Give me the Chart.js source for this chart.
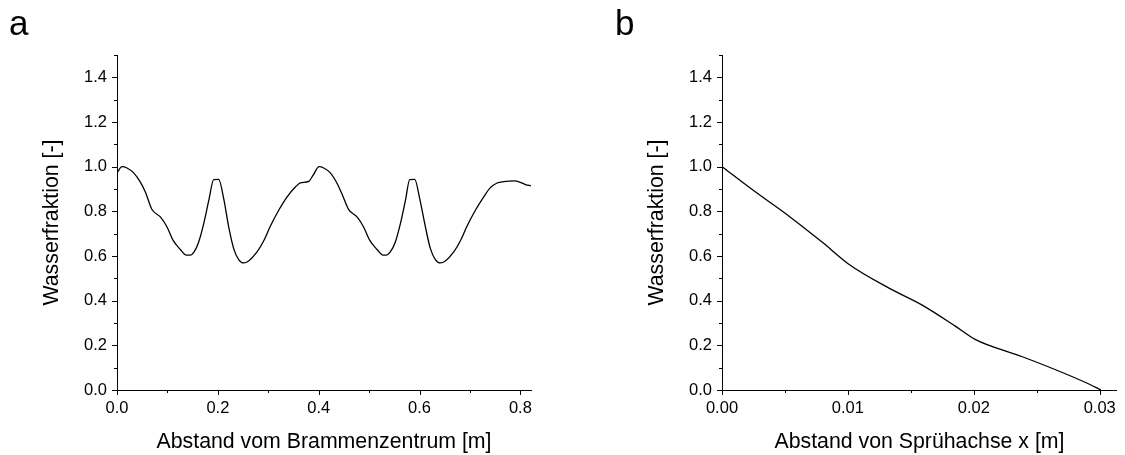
<!DOCTYPE html>
<html><head><meta charset="utf-8">
<script src="https://cdn.jsdelivr.net/npm/chart.js@4/dist/chart.umd.min.js"></script>
<style>
html,body{margin:0;padding:0;background:#fff;width:1125px;height:455px;overflow:hidden}
.box{position:absolute;top:0;height:455px}
</style></head><body>
<div class="box" style="left:0;width:580px"><canvas id="ca" width="580" height="455"></canvas></div>
<div class="box" style="left:580px;width:545px"><canvas id="cb" width="545" height="455"></canvas></div>
<script>
// Panel a: water fraction vs distance from slab centre
const xA = [0, 0.0099, 0.0198, 0.033, 0.0463, 0.0562, 0.0694, 0.086, 0.0992, 0.111, 0.1256, 0.1375, 0.1455, 0.153, 0.162, 0.172, 0.182, 0.1917, 0.2017, 0.2116, 0.2215, 0.2314, 0.2413, 0.2512, 0.261, 0.2777, 0.291, 0.304, 0.3207, 0.337, 0.3537, 0.3636, 0.38, 0.39, 0.4007, 0.41, 0.423, 0.436, 0.446, 0.4595, 0.476, 0.489, 0.501, 0.5157, 0.5276, 0.534, 0.542, 0.552, 0.562, 0.572, 0.5805, 0.5904, 0.6003, 0.6116, 0.6215, 0.6314, 0.6413, 0.6512, 0.6678, 0.681, 0.694, 0.7107, 0.727, 0.7405, 0.7537, 0.767, 0.787, 0.80, 0.81, 0.821];
const yA = [0.972, 1.0, 0.994, 0.972, 0.931, 0.887, 0.808, 0.775, 0.730, 0.671, 0.629, 0.604, 0.604, 0.618, 0.663, 0.745, 0.849, 0.942, 0.943, 0.857, 0.730, 0.633, 0.584, 0.569, 0.578, 0.618, 0.668, 0.733, 0.805, 0.864, 0.909, 0.927, 0.934, 0.966, 1.0, 0.994, 0.972, 0.927, 0.879, 0.808, 0.775, 0.730, 0.671, 0.629, 0.604, 0.604, 0.618, 0.663, 0.745, 0.849, 0.942, 0.943, 0.857, 0.730, 0.633, 0.584, 0.569, 0.578, 0.618, 0.668, 0.733, 0.805, 0.864, 0.906, 0.927, 0.933, 0.936, 0.930, 0.920, 0.914];
// Panel b: water fraction vs distance from spray axis
const xB = [0, 0.0027, 0.0054, 0.0080, 0.0101, 0.0133, 0.0159, 0.0185, 0.0201, 0.0238, 0.0264, 0.0291, 0.0301];
const yB = [1.0, 0.885, 0.775, 0.66, 0.562, 0.455, 0.38, 0.287, 0.2265, 0.15, 0.093, 0.028, 0.0];
// tick labels
const yTicks = [0, 0.2, 0.4, 0.6, 0.8, 1.0, 1.2, 1.4];
const xTicksA = [0, 0.2, 0.4, 0.6, 0.8];
const xTicksB = [0, 0.01, 0.02, 0.03];
const yMinor = [0.1, 0.3, 0.5, 0.7, 0.9, 1.1, 1.3, 1.5];
const xMinorA = [0.1, 0.3, 0.5, 0.7];
const xMinorB = [0.005, 0.015, 0.025];

const FONT = "'Liberation Sans', Arial, sans-serif";

const tickPlugin = {
  id: 'ticksAndLetter',
  afterDraw(chart) {
    const o = chart.options.plugins.ticksAndLetter;
    const ctx = chart.ctx;
    const xs = chart.scales.x, ys = chart.scales.y;
    const a = chart.chartArea;
    ctx.save();
    ctx.strokeStyle = '#000';
    ctx.lineWidth = 1;
    ctx.beginPath();
    const draw = (vals, len, axis) => {
      vals.forEach(v => {
        if (axis === 'x') {
          const p = Math.round(xs.getPixelForValue(v)) + 0.5;
          ctx.moveTo(p, a.bottom); ctx.lineTo(p, a.bottom + len);
        } else {
          const p = Math.round(ys.getPixelForValue(v)) + 0.5;
          ctx.moveTo(a.left, p); ctx.lineTo(a.left - len, p);
        }
      });
    };
    draw(o.xMajor, 5, 'x'); draw(o.xMinor, 3, 'x');
    draw(yTicks, 5, 'y'); draw(yMinor, 3, 'y');
    ctx.stroke();
    ctx.fillStyle = '#000';
    ctx.font = '35px ' + FONT;
    ctx.textBaseline = 'alphabetic';
    ctx.fillText(o.letter, o.lx, 35);
    ctx.restore();
  }
};

function makeChart(id, xs, ys, cfg) {
  const pts = xs.map((x, i) => ({x: x, y: ys[i]}));
  return new Chart(document.getElementById(id), {
    type: 'line',
    data: { datasets: [{ data: pts, borderColor: '#000', borderWidth: 1.3, pointRadius: 0, fill: false, cubicInterpolationMode: 'monotone' }] },
    options: {
      responsive: false, animation: false, events: [],
      layout: { padding: { top: 55, right: cfg.padRight, left: 0, bottom: 0 } },
      plugins: { legend: { display: false }, tooltip: { enabled: false },
        ticksAndLetter: { xMajor: cfg.xTicks, xMinor: cfg.xMinor, letter: cfg.letter, lx: cfg.lx } },
      scales: {
        x: {
          type: 'linear', min: 0, max: cfg.xMax,
          afterBuildTicks: s => { s.ticks = cfg.xTicks.map(v => ({value: v})); },
          afterFit: s => { s.height = 65; },
          grid: { display: true, drawOnChartArea: false, drawTicks: false },
          border: { display: true, color: '#000', width: 1 },
          ticks: { color: '#000', font: { family: FONT, size: 16.5 }, padding: 9, maxRotation: 0, autoSkip: false,
                   callback: v => v.toFixed(cfg.xDec) },
          title: { display: true, text: cfg.xTitle, color: '#000', font: { family: FONT, size: 21.3 }, padding: { top: 0, bottom: 0 } }
        },
        y: {
          type: 'linear', min: 0, max: 1.5,
          afterBuildTicks: s => { s.ticks = yTicks.map(v => ({value: v})); },
          afterFit: s => { s.width = cfg.yWidth; },
          grid: { display: true, drawOnChartArea: false, drawTicks: false },
          border: { display: true, color: '#000', width: 1 },
          ticks: { color: '#000', font: { family: FONT, size: 16.5 }, padding: 10, autoSkip: false,
                   callback: v => v.toFixed(1) },
          title: { display: true, text: 'Wasserfraktion [-]', color: '#000', font: { family: FONT, size: 21.3 }, padding: { top: cfg.yTitlePad, bottom: 0 } }
        }
      }
    },
    plugins: [tickPlugin]
  });
}

makeChart('ca', xA, yA, { xMax: 0.821, xTicks: xTicksA, xMinor: xMinorA, xDec: 1, padRight: 49, yWidth: 117, yTitlePad: 39,
  xTitle: 'Abstand vom Brammenzentrum [m]', letter: 'a', lx: 9 });
makeChart('cb', xB, yB, { xMax: 0.03137, xTicks: xTicksB, xMinor: xMinorB, xDec: 2, padRight: 5, yWidth: 142, yTitlePad: 64,
  xTitle: 'Abstand von Sprühachse x [m]', letter: 'b', lx: 35 });
</script>
</body></html>
